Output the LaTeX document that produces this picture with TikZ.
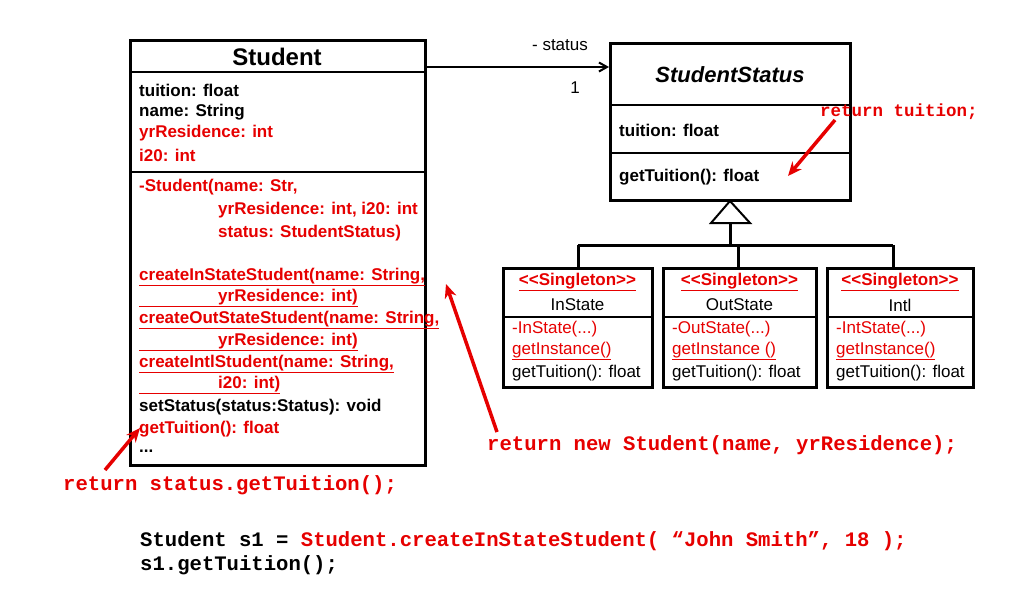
\documentclass[tikz,border=0pt]{standalone}
\usepackage{fontspec}
\setmainfont{Liberation Sans}
\setmonofont{Liberation Mono}
\usetikzlibrary{arrows.meta}
\definecolor{rd}{RGB}{230,0,0}
\newcommand{\dotsthree}{...}
\begin{document}
\begin{tikzpicture}[x=1pt,y=-1pt,
 box/.style={draw,line width=3pt},
 sep/.style={line width=2pt},
 tx/.style={anchor=west,font=\fontsize{17}{19}\selectfont\bfseries,inner sep=0pt},
 rt/.style={tx,text=rd},
 st/.style={anchor=west,font=\fontsize{17}{19}\selectfont,inner sep=0pt},
 code/.style={anchor=west,font=\fontsize{20.6}{22}\selectfont\ttfamily\bfseries,inner sep=0pt},
 redarrow/.style={draw=rd,line width=3.5pt,-{Stealth[length=14pt,width=12pt]}}]
\useasboundingbox (0,0) rectangle (1024,592);
% Student
\draw[box] (130,40) rectangle (425,465);
\draw[sep] (130,72) -- (425,72);
\draw[sep] (130,172) -- (425,172);
\node[font=\fontsize{24}{26}\selectfont\bfseries] (stitle) at (277,57) {Student};
\node[tx] (a1) at (139,90) {tuition: float};
\node[tx] (a2) at (139,112) {name: String};
\node[rt] (a3) at (139,133) {yrResidence: int};
\node[rt] (a4) at (139,155) {i20: int};
\node[rt] (m1) at (139,187) {-Student(name: Str,};
\node[rt] (m2) at (218,210) {yrResidence: int, i20: int};
\node[rt] (m3) at (218,233) {status: StudentStatus)};
\node[rt] (m4) at (139,277) {\underline{createInStateStudent(name: String,}};
\node[rt] (m5) at (139,298) {\underline{\hbox to 79pt{}yrResidence: int)}};
\node[rt] (m6) at (139,320) {\underline{createOutStateStudent(name: String,}};
\node[rt] (m7) at (139,342) {\underline{\hbox to 79pt{}yrResidence: int)}};
\node[rt] (m8) at (139,364) {\underline{createIntlStudent(name: String,}};
\node[rt] (m9) at (139,385) {\underline{\hbox to 79pt{}i20: int)}};
\node[tx] (m10) at (139,407) {setStatus(status:Status): void};
\node[rt] (m11) at (139,429) {getTuition(): float};
\node[tx] (m12) at (139,451) {\dotsthree};
% StudentStatus
\draw[box] (610,43) rectangle (850,200);
\draw[sep] (610,105) -- (850,105);
\draw[sep] (610,153) -- (850,153);
\node[font=\fontsize{22}{24}\selectfont\bfseries\itshape] (sstitle) at (730,75) {StudentStatus};
\node[tx] (s1) at (619,130) {tuition: float};
\node[tx] (s2) at (619,177) {getTuition(): float};
% association
\coordinate (as) at (426,67);
\coordinate (ae) at (609,67);
\draw[line width=2pt,-{Straight Barb[length=8pt,width=9pt]}] (as) -- (ae);
\node[font=\fontsize{17}{19}\selectfont] (lst) at (560,45) {- status};
\node[font=\fontsize{17}{19}\selectfont] (l1) at (575,88) {1};
% inheritance
\draw[line width=2pt,fill=white] (730,201) -- (750,223) -- (711,223) -- cycle;
\coordinate (tb) at (730,223);
\coordinate (hj) at (730,245);
\draw[line width=3pt] (tb) -- (hj);
\draw[line width=3pt] (578,245) -- (893,245);
\foreach \x in {578,738,893}{\draw[line width=3pt] (\x,245) -- (\x,268);}
% singleton boxes
\foreach \l/\r/\n/\c/\g/\ga in {503/652/InState/{-InState(\dotsthree)}/getInstance()/a,663/816/OutState/{-OutState(\dotsthree)}/getInstance ()/b,827/973/Intl/{-IntState(\dotsthree)}/getInstance()/c}{
 \draw[box] (\l,268) rectangle (\r,387);
 \draw[sep] (\l,317) -- (\r,317);
 \node[font=\fontsize{17}{19}\selectfont\bfseries,text=rd] (sg\ga) at ({(\l+\r)/2},282) {\underline{<{}<Singleton>{}>}};
 \node[font=\fontsize{17}{19}\selectfont] (nm\ga) at ({(\l+\r)/2},305) {\n};
 \node[st,text=rd] (c\ga) at (\l+9,329) {\c};
 \node[st,text=rd] (g\ga) at (\l+9,351) {\underline{\g}};
 \node[st] (t\ga) at (\l+9,373) {getTuition(): float};
}
% notes
\node[font=\fontsize{17.5}{19}\selectfont\ttfamily\bfseries,text=rd,anchor=west,inner sep=0pt] (n1) at (820,112) {return tuition;};
\draw[redarrow] (835,120) -- (788,176);
\node[code,text=rd] (n2) at (487,445) {return new Student(name, yrResidence);};
\draw[redarrow] (497,432) -- (446,284);
\node[code,text=rd] (n3) at (63,485) {return status.getTuition();};
\draw[redarrow] (105,470) -- (140,428);
\node[code] (c1) at (140,541) {Student s1 = \textcolor{rd}{Student.createInStateStudent( “John Smith”, 18 );}};
\node[code] (c2) at (140,565) {s1.getTuition();};
\end{tikzpicture}
\end{document}
